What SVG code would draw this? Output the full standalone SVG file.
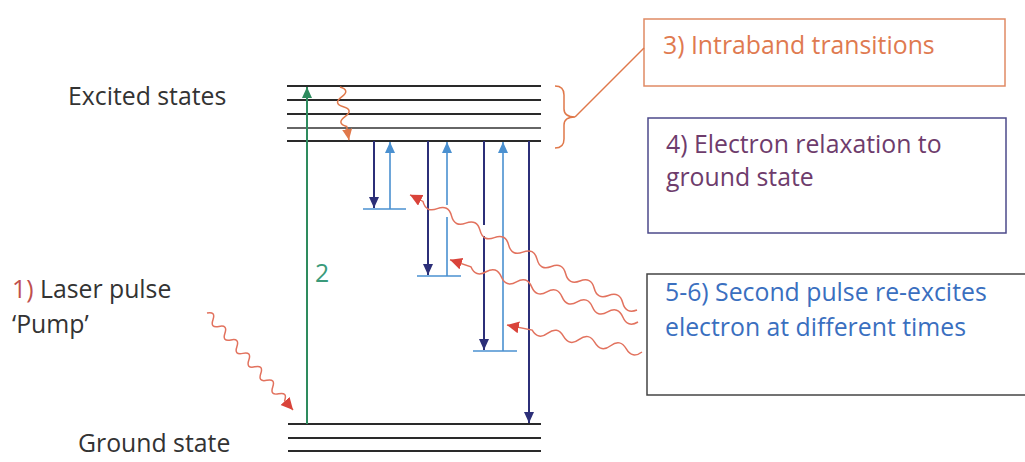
<svg xmlns="http://www.w3.org/2000/svg" width="1025" height="462" viewBox="0 0 1025 462">
<style>
text{font-family:"Open Sans",Lato,"Liberation Sans",sans-serif;font-size:24.8px}
.lvl{stroke:#2a2a2a;stroke-width:2}
.lvlt{stroke:#333;stroke-width:1.3}
.navy{stroke:#2c2f78;stroke-width:2;fill:none}
.lb{stroke:#4a90d0;stroke-width:1.6;fill:none}
.ph{stroke:#e2725e;stroke-width:1.5;fill:none}
.dark{fill:#333}
</style>
<defs>
<marker id="hNavy" markerUnits="userSpaceOnUse" markerWidth="12" markerHeight="12" refX="11" refY="5" orient="auto"><path d="M0,0 L11,5 L0,10 z" fill="#2c2f78"/></marker>
<marker id="hLb" markerUnits="userSpaceOnUse" markerWidth="12" markerHeight="12" refX="11" refY="5" orient="auto"><path d="M0,0 L11,5 L0,10 z" fill="#4a90d0"/></marker>
<marker id="hGreen" markerUnits="userSpaceOnUse" markerWidth="12" markerHeight="12" refX="11" refY="5" orient="auto"><path d="M0,0 L11,5 L0,10 z" fill="#2e8b5e"/></marker>
<marker id="hRed" markerUnits="userSpaceOnUse" markerWidth="14" markerHeight="14" refX="12" refY="6" orient="auto"><path d="M0,0 L12,6 L0,12 z" fill="#d9433a"/></marker>
<marker id="hOr" markerUnits="userSpaceOnUse" markerWidth="12" markerHeight="12" refX="11" refY="5" orient="auto"><path d="M0,0 L11,5 L0,10 z" fill="#e0784a"/></marker>
</defs>

<g id="excited-states">
<line class="lvl" x1="287" y1="86" x2="541" y2="86"/>
<line class="lvl" x1="287" y1="100" x2="541" y2="100"/>
<line class="lvl" x1="287" y1="114" x2="541" y2="114"/>
<line class="lvlt" x1="287" y1="128" x2="541" y2="128"/>
<line class="lvl" x1="287" y1="141" x2="541" y2="141"/>
<text x="68" y="105" class="dark">Excited states</text>
</g>

<g id="ground-state">
<line class="lvl" x1="288" y1="424" x2="541" y2="424"/>
<line class="lvl" x1="288" y1="438" x2="541" y2="438"/>
<line class="lvl" x1="288" y1="451" x2="541" y2="451"/>
<text x="78" y="452" class="dark">Ground state</text>
</g>

<g id="pump-label">
<text x="12" y="298"><tspan fill="#c0504d">1)</tspan><tspan fill="#333"> Laser pulse</tspan></text>
<text x="12" y="333" class="dark">‘Pump’</text>
</g>

<g id="box-intraband">
<rect x="644" y="19" width="361" height="67" fill="none" stroke="#e08a64" stroke-width="1.5"/>
<text x="663" y="54" fill="#df7a50">3) Intraband transitions</text>
</g>

<g id="box-relaxation">
<rect x="648" y="118" width="358" height="115" fill="none" stroke="#4c4a8a" stroke-width="1.5"/>
<text x="666" y="153" fill="#6e3c6c">4) Electron relaxation to</text>
<text x="666" y="186" fill="#6e3c6c">ground state</text>
</g>

<g id="box-second-pulse">
<rect x="647" y="274" width="380" height="121" fill="none" stroke="#444" stroke-width="1.5"/>
<text x="665" y="301" fill="#3a6fbf">5-6) Second pulse re-excites</text>
<text x="665" y="336" fill="#3a6fbf">electron at different times</text>
</g>

<g id="short-levels">
<line class="lb" x1="363" y1="209" x2="406" y2="209"/>
<line class="lb" x1="417" y1="276" x2="461" y2="276"/>
<line class="lb" x1="473" y1="351" x2="517" y2="351"/>
</g>

<g id="connectors">
<line x1="307" y1="424" x2="307" y2="87" stroke="#2e8b5e" stroke-width="2" marker-end="url(#hGreen)"/>
<text x="315" y="282" fill="#3a9a7a" font-size="22">2</text>

<path class="ph" style="stroke:#e0784a" transform="translate(340,87) rotate(80.4)" d="M0,0 q5,-10 10,0 t10,0 t10,0 t10,0 L53.8,0" marker-end="url(#hOr)"/>

<line class="navy" x1="374" y1="141" x2="374" y2="208" marker-end="url(#hNavy)"/>
<line class="lb" x1="390" y1="209" x2="390" y2="142" marker-end="url(#hLb)"/>

<line class="navy" x1="428" y1="141" x2="428" y2="275" marker-end="url(#hNavy)"/>
<line class="lb" x1="447" y1="276" x2="447" y2="217"/>
<line class="lb" x1="447" y1="205" x2="447" y2="142" marker-end="url(#hLb)"/>

<line class="navy" x1="484" y1="141" x2="484" y2="225"/>
<line class="navy" x1="484" y1="236" x2="484" y2="350" marker-end="url(#hNavy)"/>
<line class="lb" x1="503" y1="351" x2="503" y2="142" marker-end="url(#hLb)"/>

<line class="navy" x1="529" y1="141" x2="529" y2="423" marker-end="url(#hNavy)"/>

<path class="ph" transform="translate(207,313) rotate(48.4)" d="M0,0 q4.5,-8 9,0 t9,0 t9,0 t9,0 t9,0 t9,0 t9,0 t9,0 t9,0 t9,0 t9,0 t9,0 t9,0 L129.6,0" marker-end="url(#hRed)"/>

<path class="ph" transform="translate(637,310) rotate(206.9)" d="M0,0 q8,-9 16,0 t16,0 t16,0 t16,0 t16,0 t16,0 t16,0 t16,0 t16,0 t16,0 t16,0 t16,0 t16,0 t16,0 t16,0 L254.5,0" marker-end="url(#hRed)"/>

<path class="ph" transform="translate(638,322) rotate(198.3)" d="M0,0 q8,-9 16,0 t16,0 t16,0 t16,0 t16,0 t16,0 t16,0 t16,0 t16,0 t16,0 t16,0 L198,0" marker-end="url(#hRed)"/>

<path class="ph" transform="translate(642,352) rotate(191.3)" d="M0,0 q8,-9 16,0 t16,0 t16,0 t16,0 t16,0 t16,0 t16,0 L137.7,0" marker-end="url(#hRed)"/>

<path d="M555,86 Q564,86 564,95 L564,109 Q564,117 575,117 Q564,117 564,125 L564,139 Q564,148 555,148" fill="none" stroke="#e0784a" stroke-width="1.5"/>
<line x1="575" y1="117" x2="644" y2="48" stroke="#e0784a" stroke-width="1.5"/>
</g>
</svg>
